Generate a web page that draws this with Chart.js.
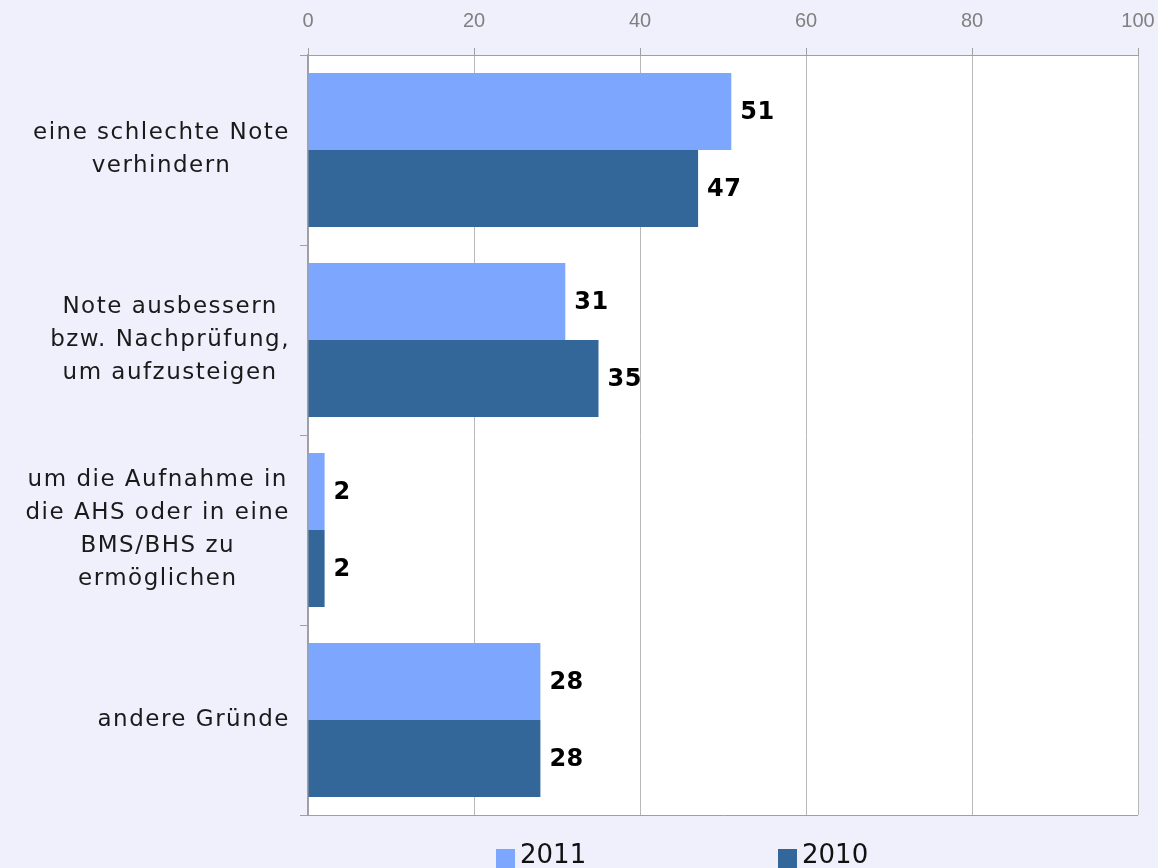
<!DOCTYPE html>
<html>
<head>
<meta charset="utf-8">
<script src="https://cdn.jsdelivr.net/npm/chart.js@4"></script>
<style>
  html, body { margin: 0; padding: 0; background: #f0f0fd; }
  #wrap { width: 1158px; height: 868px; position: relative; }
</style>
</head>
<body>
<div id="wrap"><canvas id="my_graph"></canvas></div>
<script>
const categories = [
  ['eine schlechte Note', 'verhindern'],
  ['Note ausbessern', 'bzw. Nachprüfung,', 'um aufzusteigen'],
  ['um die Aufnahme in', 'die AHS oder in eine', 'BMS/BHS zu', 'ermöglichen'],
  ['andere Gründe']
];
const seriesNames = ['2011', '2010'];
const values2011 = [51, 31, 2, 28];
const values2010 = [47, 35, 2, 28];
const xTicks = [0, 20, 40, 60, 80, 100];

const lightBlue = '#7da7ff';
const darkBlue = '#336699';
const axisGray = '#a0a0a0';

// white plot area on the lavender page
const plotBg = {
  id: 'plotBg',
  beforeDraw(chart) {
    const { ctx, chartArea: a } = chart;
    ctx.save();
    ctx.fillStyle = '#ffffff';
    ctx.fillRect(a.left, a.top, a.right - a.left, a.bottom - a.top);
    ctx.restore();
  }
};

// category labels: each block centred on itself, blocks right aligned
const catLabels = {
  id: 'catLabels',
  afterDraw(chart) {
    const ctx = chart.ctx;
    const yScale = chart.scales.y;
    const rightEdge = 290;
    const lineH = 33;
    ctx.save();
    ctx.font = '23px "DejaVu Sans"';
    ctx.letterSpacing = '1.5px';
    ctx.fillStyle = '#1a1a1a';
    ctx.textAlign = 'center';
    ctx.textBaseline = 'middle';
    chart.data.labels.forEach((lines, i) => {
      const widest = Math.max(...lines.map(l => ctx.measureText(l).width));
      const cx = rightEdge - widest / 2;
      const cy = yScale.getPixelForValue(i);
      const y0 = cy - (lines.length - 1) * lineH / 2;
      lines.forEach((l, k) => ctx.fillText(l, cx, y0 + k * lineH));
    });
    ctx.restore();
  }
};

// bold numbers at the end of every bar
const barValues = {
  id: 'barValues',
  afterDatasetsDraw(chart) {
    const ctx = chart.ctx;
    ctx.save();
    ctx.font = 'bold 24px "DejaVu Sans"';
    ctx.letterSpacing = '0.5px';
    ctx.fillStyle = '#000000';
    ctx.textAlign = 'left';
    ctx.textBaseline = 'middle';
    chart.data.datasets.forEach((ds, d) => {
      chart.getDatasetMeta(d).data.forEach((bar, i) => {
        ctx.fillText(String(ds.data[i]), bar.x + 9, bar.y + 1);
      });
    });
    ctx.restore();
  }
};

// legend squares at the bottom edge
const bottomLegend = {
  id: 'bottomLegend',
  afterDraw(chart) {
    const ctx = chart.ctx;
    const xs = [496, 778];
    ctx.save();
    ctx.font = '26px "DejaVu Sans"';
    ctx.textBaseline = 'top';
    ctx.textAlign = 'left';
    chart.data.datasets.forEach((ds, d) => {
      ctx.fillStyle = ds.backgroundColor;
      ctx.fillRect(xs[d], 849, 19, 19);
      ctx.fillStyle = '#111111';
      ctx.fillText(ds.label, xs[d] + 24, 843);
    });
    ctx.restore();
  }
};

const data = {
  labels: categories,
  datasets: [{
    label: seriesNames[0],
    data: values2011,
    backgroundColor: lightBlue,
    borderWidth: 0,
    barPercentage: 1,
    categoryPercentage: 0.81
  }, {
    label: seriesNames[1],
    data: values2010,
    backgroundColor: darkBlue,
    borderWidth: 0,
    barPercentage: 1,
    categoryPercentage: 0.81
  }]
};

const confg = {
  type: 'bar',
  data,
  options: {
    indexAxis: 'y',
    responsive: true,
    maintainAspectRatio: false,
    animation: false,
    layout: { padding: { right: 20, bottom: 53, left: 0, top: 0 } },
    scales: {
      x: {
        position: 'top',
        min: 0,
        max: 100,
        afterBuildTicks: s => { s.ticks = xTicks.map(v => ({ value: v })); },
        afterFit: s => {
          s.height = 55;
          s.paddingLeft = 0;
          s.paddingRight = 0;
        },
        ticks: {
          color: '#808080',
          padding: 15,
          font: { family: '"Liberation Sans", Arial, sans-serif', size: 20 }
        },
        grid: {
          color: '#b8b8b8',
          tickColor: axisGray,
          tickLength: 7
        },
        border: { color: axisGray, width: 1 }
      },
      y: {
        afterFit: s => { s.width = 308; },
        ticks: { color: 'transparent', font: { size: 22 } },
        grid: {
          offset: true,
          tickLength: 8,
          tickColor: axisGray,
          color: c => (c.type !== 'tick' || c.index === 0) ? axisGray : 'transparent'
        },
        border: { color: axisGray, width: 2 }
      }
    },
    plugins: {
      legend: { display: false },
      tooltip: { enabled: false }
    }
  },
  plugins: [plotBg, catLabels, barValues, bottomLegend]
};

new Chart(document.getElementById('my_graph'), confg);
</script>
</body>
</html>
